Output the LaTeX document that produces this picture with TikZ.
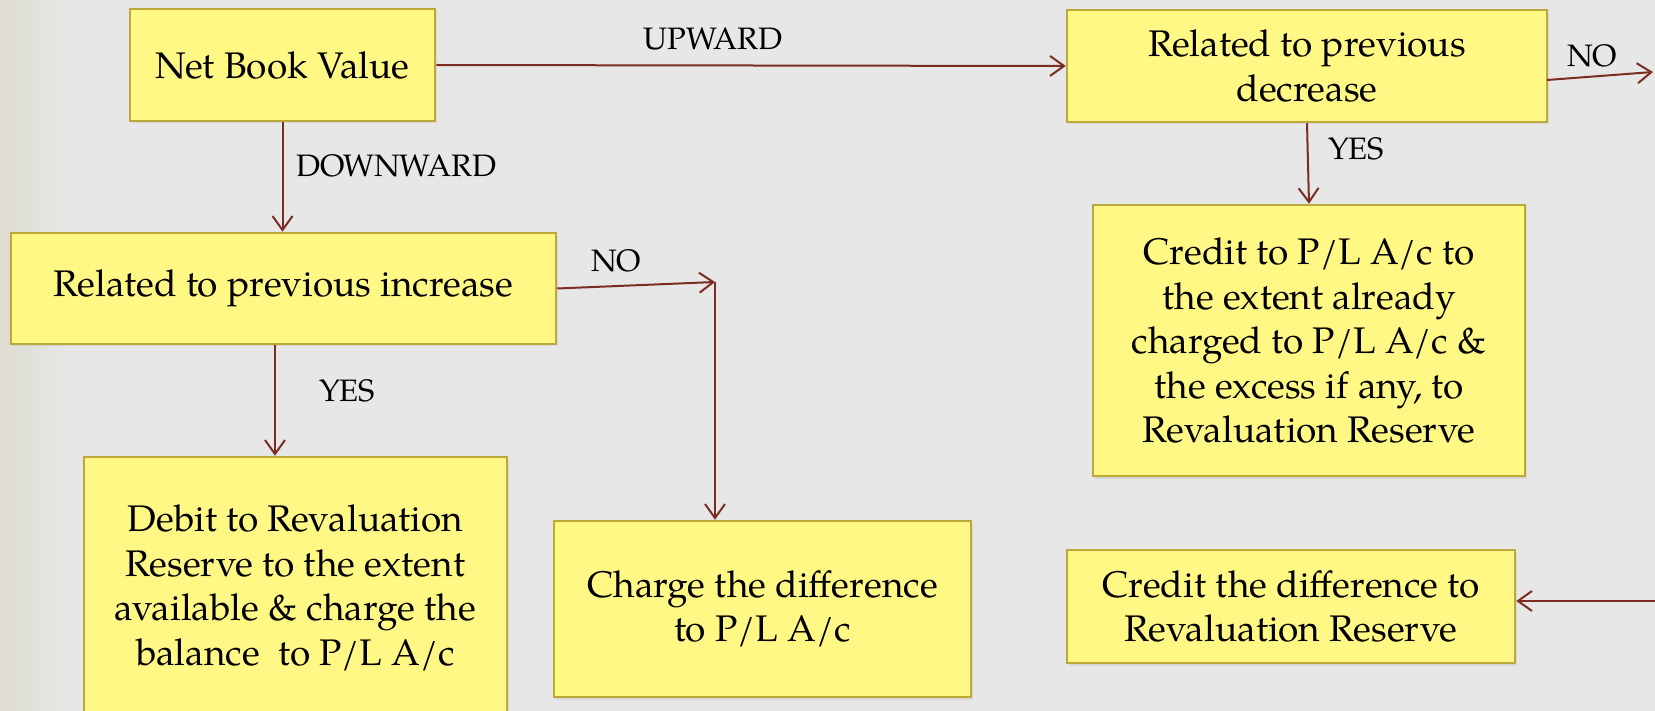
\documentclass[tikz,border=0pt]{standalone}
\usepackage{fontspec}
\setmainfont{TeX Gyre Pagella}
\usetikzlibrary{arrows.meta,shadows,calc}
\definecolor{bg}{HTML}{E7E7E7}
\definecolor{bgedge}{HTML}{DEDCCF}
\definecolor{boxfill}{HTML}{FFF885}
\definecolor{boxline}{HTML}{BDA93A}
\definecolor{arrowc}{HTML}{7B2D22}

\begin{document}
\begin{tikzpicture}[x=1pt,y=-1pt,
  flowbox/.style={draw=boxline, fill=boxfill, line width=2.5pt, align=center,
    inner sep=0pt, font=\fontsize{37}{44.5}\selectfont,
    drop shadow={opacity=0.15, shadow xshift=1.5pt, shadow yshift=-2.5pt}},
  link/.style={draw=arrowc, line width=2pt,
    -{Straight Barb[length=14pt,width=20pt,line width=2pt]}},
  tag/.style={font=\fontsize{31}{36}\selectfont, anchor=base, inner sep=0pt}]

% canvas
\useasboundingbox (0,0) rectangle (1655,711);
\fill[bg] (0,0) rectangle (1655,711);
\shade[left color=bgedge, right color=bg] (0,0) rectangle (70,711);

% decision and result boxes
\node[flowbox, minimum width=305pt, minimum height=112pt] (nbv) at (282.5,65) {Net Book Value};
\node[flowbox, minimum width=545pt, minimum height=111pt] (inc) at (283.5,288.5) {Related to previous increase};
\node[flowbox, minimum width=423pt, minimum height=262pt] (debit) at (295.5,588)
  {Debit to Revaluation\\Reserve to the extent\\available \& charge the\\balance\ \ to P/L A/c};
\node[flowbox, minimum width=417pt, minimum height=176pt] (charge) at (762.5,609)
  {Charge the difference\\to P/L A/c};
\node[flowbox, minimum width=480pt, minimum height=112pt] (dec) at (1307,66)
  {Related to previous\\decrease};
\node[flowbox, minimum width=432pt, minimum height=271pt] (credpl) at (1309,340.5)
  {Credit to P/L A/c to\\the extent already\\charged to P/L A/c \&\\the excess if any, to\\Revaluation Reserve};
\node[flowbox, minimum width=448pt, minimum height=113pt] (creddiff) at (1291,606.5)
  {Credit the difference to\\Revaluation Reserve};

% free ends of connectors
\coordinate (turn) at (715,282);
\coordinate (noout) at (1653,72);
\coordinate (noin) at (1656,601);
\coordinate (incyes) at ($(inc.south)+(-8.5,0)$);
\coordinate (decno) at (1547,80);

% connectors
\draw[link] (nbv.south) -- (nbv.south |- inc.north);
\draw[link] (nbv.east) -- (dec.west);
\draw[link] (inc.east) -- (turn);
\draw[link] (turn) -- (turn |- charge.north);
\draw[link] (incyes) -- (incyes |- debit.north);
\draw[link] (dec.south) -- (credpl.north);
\draw[link] (decno) -- (noout);
\draw[link] (noin) -- (noin -| creddiff.east);

% connector labels
\node[tag] (lup) at (713,49.5) {UPWARD};
\node[tag] (ldown) at (396,177) {DOWNWARD};
\node[tag] (lincno) at (616,272) {NO};
\node[tag] (lincyes) at (347,401) {YES};
\node[tag] (ldecno) at (1592,67) {NO};
\node[tag] (ldecyes) at (1356,160) {YES};
\end{tikzpicture}
\end{document}
